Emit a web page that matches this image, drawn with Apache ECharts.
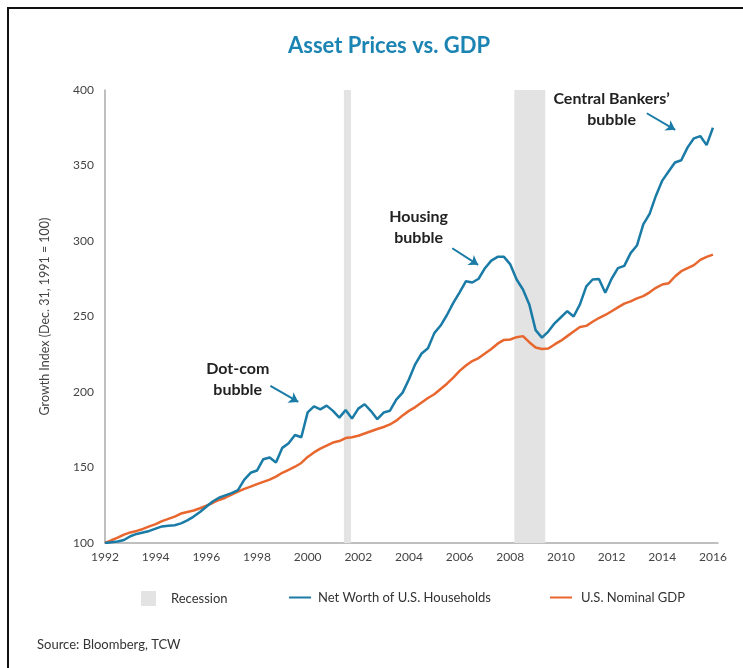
<!DOCTYPE html>
<html>
<head>
    <meta charset='utf-8'>
    <script src="https://cdn.jsdelivr.net/npm/echarts@6/dist/echarts.min.js"></script>
</head>
<body>
<style>
    html, body, #main {
        width: 100%;
        height: 100%;
        margin: 0;
        padding: 0;
        background: #fff;
    }
</style>
<div id="main"></div>
<script>

    // quarter-end dates, Dec 31 1991 = 1992.00
    var startYear = 1992;

    // Net Worth of U.S. Households, growth index
    var netWorth = [
        100, 100.5, 101, 102,
        104.5, 106, 107, 108,
        109.5, 111, 111.5, 111.8,
        113, 115, 117.5, 120.5,
        124, 127.5, 130, 131.5,
        133, 135, 142, 146.5,
        148, 155.5, 156.6, 153.3,
        163, 166, 171.5, 170,
        186.5, 190.5, 188.5, 191,
        187.5, 183, 188, 182.4,
        189, 191.9, 187.4, 182,
        186.4, 187.6, 195, 199.6,
        208.4, 218.5, 225.5, 229,
        239, 244, 251, 259,
        266, 273.4, 272.5, 275,
        282, 287, 289.5, 289.5,
        284.5, 274.5, 267.9, 258,
        241, 236, 240, 245.5,
        249.5, 253.5, 250, 258,
        270, 274.5, 274.8, 265.7,
        275, 282, 283.5, 292,
        297, 311, 318, 330,
        340, 346, 352, 353.5,
        362, 368, 369.5, 363.5,
        375
    ];

    // U.S. Nominal GDP, growth index
    var nominalGdp = [
        100, 101.8, 103.5, 105.5,
        107, 108, 109.3, 111,
        112.5, 114.5, 116, 117.5,
        119.5, 120.5, 121.5, 123,
        124.7, 126.5, 128.5, 130,
        132, 134, 135.8, 137.3,
        139, 140.5, 142, 144,
        146.5, 148.5, 150.5, 153,
        157, 160, 162.5, 164.5,
        166.5, 167.5, 169.5, 170,
        171, 172.5, 174, 175.5,
        176.8, 178.5, 181, 184.5,
        187.5, 190, 193, 196,
        198.5, 202, 205.5, 209.5,
        214, 217.5, 220.5, 222.5,
        225.5, 228.5, 232, 234.5,
        234.8, 236.3, 237, 233,
        229.5, 228.5, 228.8, 231.5,
        234, 237, 240, 243,
        243.8, 246.5, 249, 251,
        253.5, 256, 258.5, 260,
        262, 263.5, 266, 269,
        271.2, 272, 276.5, 280,
        282, 284, 287.5, 289.5,
        291
    ];

    // recession periods [start, end]
    var recessions = [
        [2001.43, 2001.71],
        [2008.16, 2009.38]
    ];

    // callouts: text anchor and arrow [from, to], in data units
    var callouts = [
        {text: 'Dot-com\nbubble', at: [1997.24, 208.4], arrow: [[1998.53, 204], [1999.63, 193.4]]},
        {text: 'Housing\nbubble', at: [2004.38, 308.9], arrow: [[2005.71, 295.2], [2006.73, 284.2]]},
        {text: 'Central Bankers\u2019\nbubble', at: [2012.0, 387.5], arrow: [[2013.39, 384.6], [2014.51, 373.6]]}
    ];

    var blue = '#1a7ba6';
    var orange = '#e8672f';
    var grey = '#e3e3e3';
    var font = 'Lato';

    function toPairs(values) {
        return values.map(function (v, i) {
            return [startYear + i * 0.25, v];
        });
    }

    var chart = echarts.init(document.getElementById('main'));

    chart.setOption({
        animation: false,
        backgroundColor: '#fff',
        textStyle: {fontFamily: font},
        title: {
            text: 'Asset Prices vs. GDP',
            left: 384,
            textAlign: 'center',
            top: 30,
            textStyle: {color: '#1b84b3', fontSize: 22, fontWeight: 'bold', fontFamily: font}
        },
        grid: {left: 105, right: 25, top: 90, bottom: 125},
        legend: [{
            data: ['Recession'],
            left: 141, top: 591, padding: 0,
            icon: 'rect', itemWidth: 15, itemHeight: 15,
            textStyle: {color: '#333', fontSize: 13, padding: [0, 0, 0, 10]}
        }, {
            data: ['Net Worth of U.S. Households'],
            left: 289, top: 591, padding: 0,
            icon: 'rect', itemWidth: 22, itemHeight: 2,
            textStyle: {color: '#333', fontSize: 13, padding: [0, 0, 0, 2]}
        }, {
            data: ['U.S. Nominal GDP'],
            left: 550, top: 591, padding: 0,
            icon: 'rect', itemWidth: 22, itemHeight: 2,
            textStyle: {color: '#333', fontSize: 13, padding: [0, 0, 0, 4]}
        }],
        xAxis: {
            type: 'value',
            min: 1992,
            max: 2016.2,
            interval: 2,
            axisLine: {lineStyle: {color: '#aaa', width: 1.5}},
            axisTick: {show: false},
            splitLine: {show: false},
            axisLabel: {
                color: '#444', fontSize: 12, margin: 8,
                formatter: function (v) {
                    return v % 2 === 0 ? String(v) : '';
                }
            }
        },
        yAxis: {
            type: 'value',
            min: 100,
            max: 400,
            interval: 50,
            name: 'Growth Index (Dec. 31, 1991 = 100)',
            nameLocation: 'middle',
            nameGap: 54,
            nameTextStyle: {color: '#444', fontSize: 12.5},
            axisLine: {show: true, lineStyle: {color: '#aaa', width: 1.5}},
            axisTick: {show: false},
            splitLine: {show: false},
            axisLabel: {color: '#444', fontSize: 12, margin: 11}
        },
        series: [{
            name: 'Recession',
            type: 'line',
            data: [],
            z: 1,
            itemStyle: {color: grey},
            markArea: {
                silent: true,
                itemStyle: {color: grey, opacity: 1},
                data: recessions.map(function (r) {
                    return [{xAxis: r[0]}, {xAxis: r[1]}];
                })
            }
        }, {
            name: 'Net Worth of U.S. Households',
            type: 'line',
            data: toPairs(netWorth),
            z: 3,
            showSymbol: false,
            symbol: 'none',
            itemStyle: {color: blue},
            lineStyle: {color: blue, width: 2.5},
            markPoint: {
                silent: true,
                symbol: 'circle',
                symbolSize: 0,
                label: {
                    show: true,
                    position: 'inside',
                    formatter: '{b}',
                    color: '#222',
                    fontSize: 16,
                    fontWeight: 'bold',
                    lineHeight: 21,
                    align: 'center'
                },
                data: callouts.map(function (c) {
                    return {name: c.text, coord: c.at};
                })
            },
            markLine: {
                silent: true,
                symbol: ['none', 'arrow'],
                symbolSize: 9,
                lineStyle: {color: blue, width: 2, type: 'solid'},
                label: {show: false},
                data: callouts.map(function (c) {
                    return [{coord: c.arrow[0]}, {coord: c.arrow[1]}];
                })
            }
        }, {
            name: 'U.S. Nominal GDP',
            type: 'line',
            data: toPairs(nominalGdp),
            z: 2,
            showSymbol: false,
            symbol: 'none',
            itemStyle: {color: orange},
            lineStyle: {color: orange, width: 2.5}
        }],
        graphic: [{
            type: 'rect',
            shape: {x: 8, y: 8, width: 800, height: 800},
            style: {fill: 'none', stroke: '#111', lineWidth: 2},
            silent: true
        }, {
            type: 'text',
            left: 37,
            top: 638,
            style: {text: 'Source: Bloomberg, TCW', fill: '#333', fontSize: 13, fontFamily: font}
        }]
    });

</script>
</body>
</html>
